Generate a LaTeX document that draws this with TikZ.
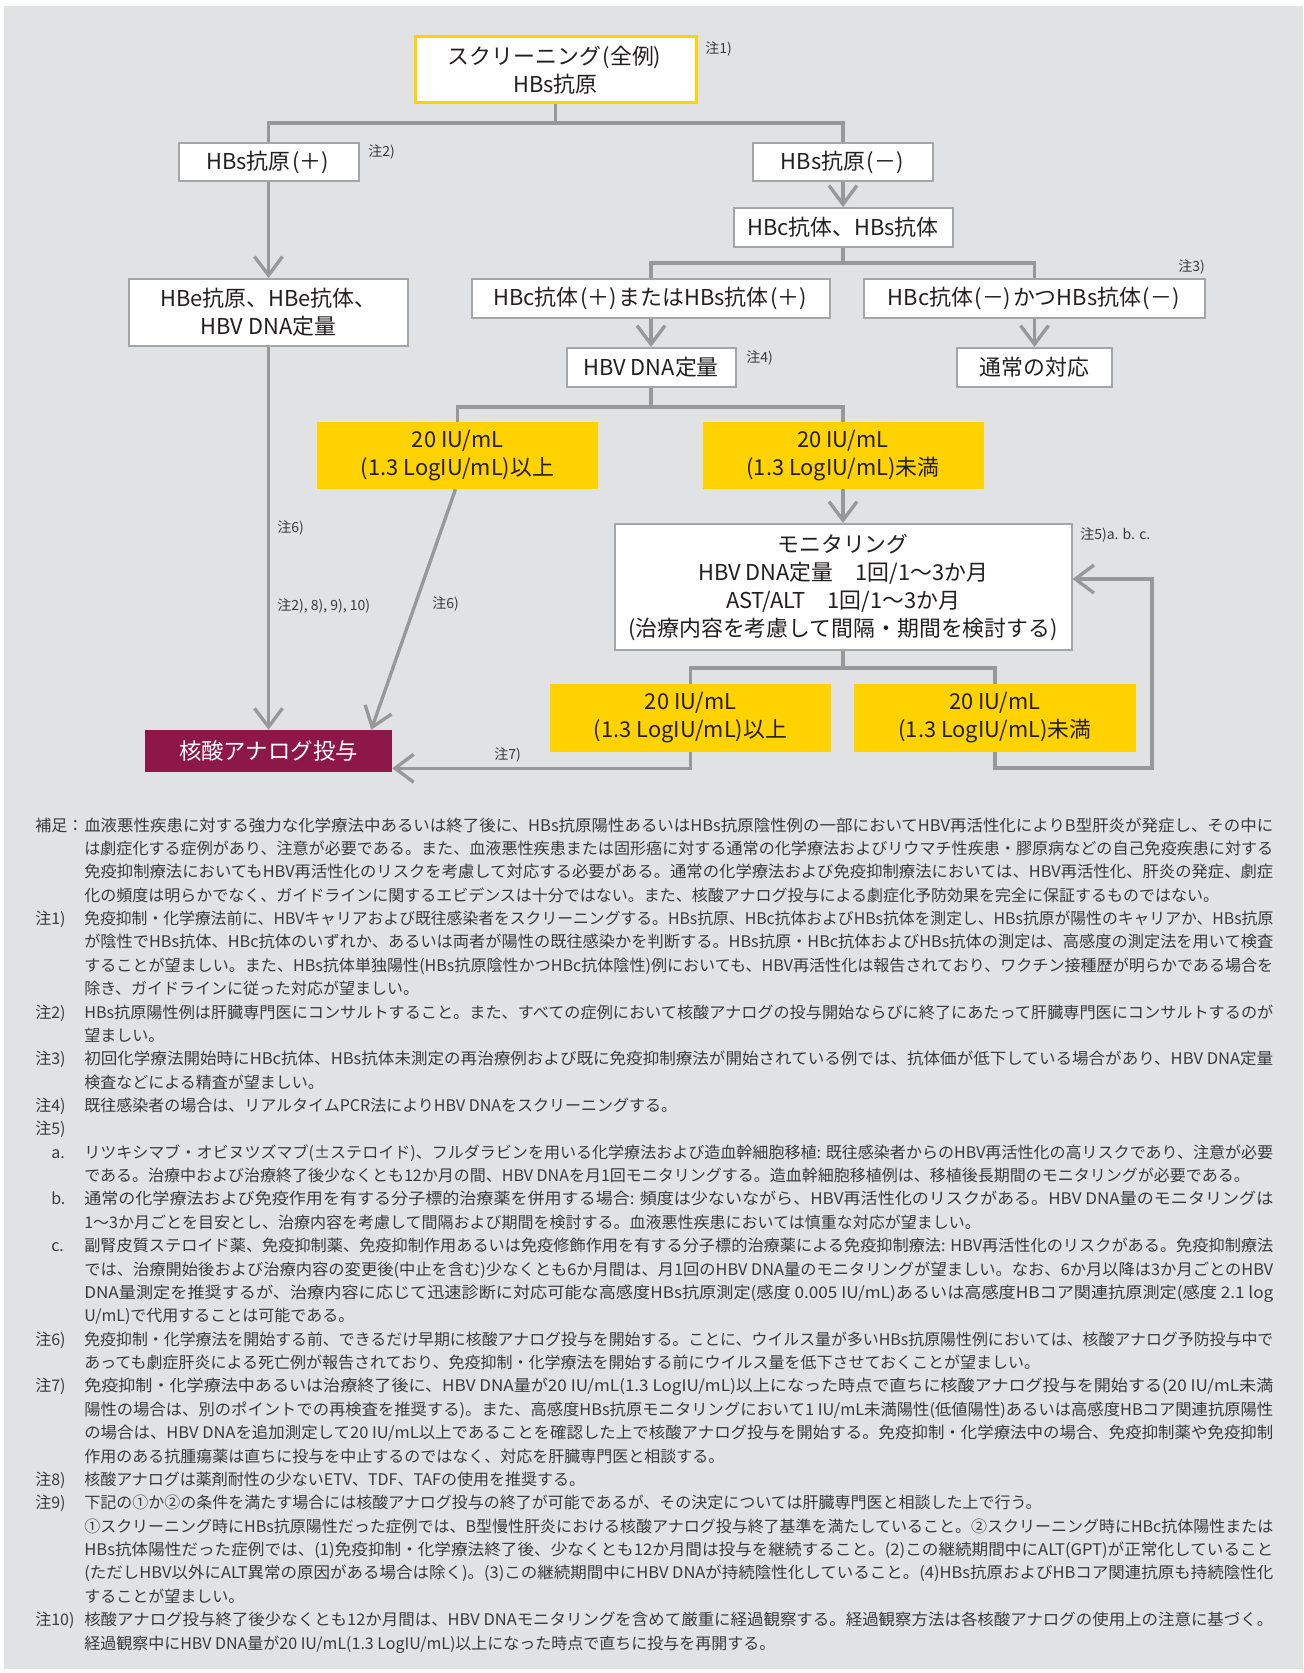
\documentclass[tikz,border=0pt]{standalone}
\usepackage{fontspec}
\setmainfont{Noto Sans CJK JP}
\usetikzlibrary{arrows.meta,calc}
\definecolor{bgc}{RGB}{225,226,228}
\definecolor{lnc}{RGB}{152,152,152}
\definecolor{bdc}{RGB}{165,165,165}
\definecolor{yel}{RGB}{255,210,0}
\definecolor{mag}{RGB}{141,24,72}
\definecolor{txt}{RGB}{35,31,32}
\definecolor{ntx}{RGB}{58,58,58}
\newcommand\FL[1]{\resizebox{891.75pt}{\height}{#1}}
\newcommand\LP{\kern0.08em(}
\newcommand\RP{)\kern0.08em}
\begin{document}
\begin{tikzpicture}[x=0.75pt,y=-0.75pt,
  sz/.style 2 args={minimum width=#1*0.75pt,minimum height=#2*0.75pt},
  wbox/.style={draw=bdc,line width=1.5pt,fill=white,inner sep=0pt,align=center,text=txt,font=\fontsize{16.4pt}{21pt}\selectfont},
  ybox/.style={fill=yel,inner sep=0pt,align=center,text=txt,font=\fontsize{16.4pt}{21pt}\selectfont},
  lab/.style={anchor=west,inner sep=0pt,text=ntx,font=\fontsize{10.5pt}{12pt}\selectfont},
  conn/.style={draw=lnc,line width=2.5pt},
  arr/.style={conn,-{Straight Barb[length=14pt,width=21pt]}},
  nt/.style={anchor=base west,inner sep=0pt,text=ntx,font=\fontsize{12pt}{14pt}\selectfont}
]
\useasboundingbox (0,0) rectangle (1303,1673);
\fill[white] (0,0) rectangle (1303,1673);
\fill[bgc] (4,6) rectangle (1303,1669);

% boxes
\node[wbox,draw=yel,line width=2.25pt,sz={281}{66}] (scr) at (555.5,70) {スクリーニング\LP 全例\RP\\HBs抗原};
\node[wbox,sz={180}{38}] (hbsp) at (268.5,162) {HBs抗原\LP ＋\RP};
\node[wbox,sz={180}{38}] (hbsn) at (843,162) {HBs抗原\LP －\RP};
\node[wbox,sz={219}{39}] (hbc) at (843,227.5) {HBc抗体、HBs抗体};
\node[wbox,sz={358}{39}] (hbcp) at (651,298.5) {HBc抗体\LP ＋\RP またはHBs抗体\LP ＋\RP};
\node[wbox,sz={341}{39}] (hbcn) at (1034.5,298.5) {HBc抗体\LP －\RP かつHBs抗体\LP －\RP};
\node[wbox,sz={279}{67}] (hbe) at (268.5,312.5) {HBe抗原、HBe抗体、\\HBV DNA定量};
\node[wbox,sz={169}{39}] (dna) at (651,367.5) {HBV DNA定量};
\node[wbox,sz={155}{39}] (usual) at (1034.5,367.5) {通常の対応};
\node[ybox,sz={281}{67}] (y1) at (457.5,455.5) {20 IU/mL\\(1.3 LogIU/mL)以上};
\node[ybox,sz={281}{67}] (y2) at (843,455.5) {20 IU/mL\\(1.3 LogIU/mL)未満};
\node[wbox,sz={457}{126}] (mon) at (843,587) {モニタリング\\HBV DNA定量　1回/1～3か月\\AST/ALT　1回/1～3か月\\(治療内容を考慮して間隔・期間を検討する)};
\node[ybox,sz={281}{68}] (y3) at (690.5,718) {20 IU/mL\\(1.3 LogIU/mL)以上};
\node[ybox,sz={282}{68}] (y4) at (995,718) {20 IU/mL\\(1.3 LogIU/mL)未満};
\node[fill=mag,text=white,inner sep=0pt,sz={247}{42},font=\fontsize{16.8pt}{20pt}\selectfont] (nuc) at (268.5,751) {核酸アナログ投与};

% connectors
\coordinate (j1) at (555.5,123);
\draw[conn] (scr.south) -- (j1);
\draw[conn] (hbsp.north) |- (j1) -| (hbsn.north);
\draw[arr] (hbsp.south) -- (hbe.north);
\draw[arr] (hbsn.south) -- (hbc.north);
\coordinate (j2) at (843,263);
\draw[conn] (hbc.south) -- (j2);
\draw[conn] (hbcp.north) |- (j2) -| (hbcn.north);
\draw[arr] (hbcp.south) -- (dna.north);
\draw[arr] (hbcn.south) -- (usual.north);
\coordinate (j3) at (651,407);
\draw[conn] (dna.south) -- (j3);
\draw[conn] (y1.north) |- (j3) -| (y2.north);
\draw[arr] (y2.south) -- (mon.north);
\draw[arr] ($(y1.south)+(-2,0)$) -- ($(nuc.north east)+(-21,0)$);
\draw[arr] (hbe.south) -- (nuc.north);
\coordinate (j4) at (843,668);
\draw[conn] (mon.south) -- (j4);
\draw[conn] (y3.north) |- (j4) -| (y4.north);
\draw[arr] (y3.south) |- ($(nuc.south east)+(0,-4)$);
\coordinate (fb) at (1152,768);
\draw[arr] (y4.south) |- (fb) |- ($(mon.east)+(0,-8)$);

% small labels
\node[lab] (l1) at (705,49) {注1)};
\node[lab] (l2) at (368,152) {注2)};
\node[lab] (l3) at (1178,267) {注3)};
\node[lab] (l4) at (746,358) {注4)};
\node[lab] (l5) at (1080,535) {注5)a. b. c.};
\node[lab] (l6a) at (277,528) {注6)};
\node[lab] (l2b) at (277,606) {注2), 8), 9), 10)};
\node[lab] (l6b) at (432,604) {注6)};
\node[lab] (l7) at (494,755) {注7)};

% note labels
\node[nt] (k0) at (35,831) {補足：};
\node[nt] (k1) at (35,924.5) {注1)};
\node[nt] (k2) at (35,1018) {注2)};
\node[nt] (k3) at (35,1064.7) {注3)};
\node[nt] (k4) at (35,1111.4) {注4)};
\node[nt] (k5) at (35,1134.8) {注5)};
\node[nt] (ka) at (51,1158.2) {a.};
\node[nt] (kb) at (51,1204.9) {b.};
\node[nt] (kc) at (51,1251.7) {c.};
\node[nt] (k6) at (35,1345.1) {注6)};
\node[nt] (k7) at (35,1391.9) {注7)};
\node[nt] (k8) at (35,1485.4) {注8)};
\node[nt] (k9) at (35,1508.7) {注9)};
\node[nt] (k10) at (35,1625.6) {注10)};

% note lines
\node[nt] (t0) at (84,831) {\FL{血液悪性疾患に対する強力な化学療法中あるいは終了後に、HBs抗原陽性あるいはHBs抗原陰性例の一部においてHBV再活性化によりB型肝炎が発症し、その中に}};
\node[nt] (t1) at (84,854.4) {\FL{は劇症化する症例があり、注意が必要である。また、血液悪性疾患または固形癌に対する通常の化学療法およびリウマチ性疾患・膠原病などの自己免疫疾患に対する}};
\node[nt] (t2) at (84,877.7) {\FL{免疫抑制療法においてもHBV再活性化のリスクを考慮して対応する必要がある。通常の化学療法および免疫抑制療法においては、HBV再活性化、肝炎の発症、劇症}};
\node[nt] (t3) at (84,901.1) {化の頻度は明らかでなく、ガイドラインに関するエビデンスは十分ではない。また、核酸アナログ投与による劇症化予防効果を完全に保証するものではない。};
\node[nt] (t4) at (84,924.5) {\FL{免疫抑制・化学療法前に、HBVキャリアおよび既往感染者をスクリーニングする。HBs抗原、HBc抗体およびHBs抗体を測定し、HBs抗原が陽性のキャリアか、HBs抗原}};
\node[nt] (t5) at (84,947.9) {\FL{が陰性でHBs抗体、HBc抗体のいずれか、あるいは両者が陽性の既往感染かを判断する。HBs抗原・HBc抗体およびHBs抗体の測定は、高感度の測定法を用いて検査}};
\node[nt] (t6) at (84,971.2) {\FL{することが望ましい。また、HBs抗体単独陽性(HBs抗原陰性かつHBc抗体陰性)例においても、HBV再活性化は報告されており、ワクチン接種歴が明らかである場合を}};
\node[nt] (t7) at (84,994.6) {除き、ガイドラインに従った対応が望ましい。};
\node[nt] (t8) at (84,1018) {\FL{HBs抗原陽性例は肝臓専門医にコンサルトすること。また、すべての症例において核酸アナログの投与開始ならびに終了にあたって肝臓専門医にコンサルトするのが}};
\node[nt] (t9) at (84,1041.3) {望ましい。};
\node[nt] (t10) at (84,1064.7) {\FL{初回化学療法開始時にHBc抗体、HBs抗体未測定の再治療例および既に免疫抑制療法が開始されている例では、抗体価が低下している場合があり、HBV DNA定量}};
\node[nt] (t11) at (84,1088.1) {検査などによる精査が望ましい。};
\node[nt] (t12) at (84,1111.4) {既往感染者の場合は、リアルタイムPCR法によりHBV DNAをスクリーニングする。};
\node[nt] (t14) at (84,1158.2) {\FL{リツキシマブ・オビヌツズマブ(±ステロイド)、フルダラビンを用いる化学療法および造血幹細胞移植: 既往感染者からのHBV再活性化の高リスクであり、注意が必要}};
\node[nt] (t15) at (84,1181.6) {である。治療中および治療終了後少なくとも12か月の間、HBV DNAを月1回モニタリングする。造血幹細胞移植例は、移植後長期間のモニタリングが必要である。};
\node[nt] (t16) at (84,1204.9) {\FL{通常の化学療法および免疫作用を有する分子標的治療薬を併用する場合: 頻度は少ないながら、HBV再活性化のリスクがある。HBV DNA量のモニタリングは}};
\node[nt] (t17) at (84,1228.3) {1～3か月ごとを目安とし、治療内容を考慮して間隔および期間を検討する。血液悪性疾患においては慎重な対応が望ましい。};
\node[nt] (t18) at (84,1251.7) {\FL{副腎皮質ステロイド薬、免疫抑制薬、免疫抑制作用あるいは免疫修飾作用を有する分子標的治療薬による免疫抑制療法: HBV再活性化のリスクがある。免疫抑制療法}};
\node[nt] (t19) at (84,1275) {\FL{では、治療開始後および治療内容の変更後(中止を含む)少なくとも6か月間は、月1回のHBV DNA量のモニタリングが望ましい。なお、6か月以降は3か月ごとのHBV}};
\node[nt] (t20) at (84,1298.4) {\FL{DNA量測定を推奨するが、治療内容に応じて迅速診断に対応可能な高感度HBs抗原測定(感度 0.005 IU/mL)あるいは高感度HBコア関連抗原測定(感度 2.1 log}};
\node[nt] (t21) at (84,1321.8) {U/mL)で代用することは可能である。};
\node[nt] (t22) at (84,1345.1) {\FL{免疫抑制・化学療法を開始する前、できるだけ早期に核酸アナログ投与を開始する。ことに、ウイルス量が多いHBs抗原陽性例においては、核酸アナログ予防投与中で}};
\node[nt] (t23) at (84,1368.5) {あっても劇症肝炎による死亡例が報告されており、免疫抑制・化学療法を開始する前にウイルス量を低下させておくことが望ましい。};
\node[nt] (t24) at (84,1391.9) {\FL{免疫抑制・化学療法中あるいは治療終了後に、HBV DNA量が20 IU/mL(1.3 LogIU/mL)以上になった時点で直ちに核酸アナログ投与を開始する(20 IU/mL未満}};
\node[nt] (t25) at (84,1415.3) {\FL{陽性の場合は、別のポイントでの再検査を推奨する)。また、高感度HBs抗原モニタリングにおいて1 IU/mL未満陽性(低値陽性)あるいは高感度HBコア関連抗原陽性}};
\node[nt] (t26) at (84,1438.6) {\FL{の場合は、HBV DNAを追加測定して20 IU/mL以上であることを確認した上で核酸アナログ投与を開始する。免疫抑制・化学療法中の場合、免疫抑制薬や免疫抑制}};
\node[nt] (t27) at (84,1462) {作用のある抗腫瘍薬は直ちに投与を中止するのではなく、対応を肝臓専門医と相談する。};
\node[nt] (t28) at (84,1485.4) {核酸アナログは薬剤耐性の少ないETV、TDF、TAFの使用を推奨する。};
\node[nt] (t29) at (84,1508.7) {下記の①か②の条件を満たす場合には核酸アナログ投与の終了が可能であるが、その決定については肝臓専門医と相談した上で行う。};
\node[nt] (t30) at (84,1532.1) {\FL{①スクリーニング時にHBs抗原陽性だった症例では、B型慢性肝炎における核酸アナログ投与終了基準を満たしていること。②スクリーニング時にHBc抗体陽性または}};
\node[nt] (t31) at (84,1555.5) {\FL{HBs抗体陽性だった症例では、(1)免疫抑制・化学療法終了後、少なくとも12か月間は投与を継続すること。(2)この継続期間中にALT(GPT)が正常化していること}};
\node[nt] (t32) at (84,1578.8) {\FL{(ただしHBV以外にALT異常の原因がある場合は除く)。(3)この継続期間中にHBV DNAが持続陰性化していること。(4)HBs抗原およびHBコア関連抗原も持続陰性化}};
\node[nt] (t33) at (84,1602.2) {することが望ましい。};
\node[nt] (t34) at (84,1625.6) {\FL{核酸アナログ投与終了後少なくとも12か月間は、HBV DNAモニタリングを含めて厳重に経過観察する。経過観察方法は各核酸アナログの使用上の注意に基づく。}};
\node[nt] (t35) at (84,1649) {経過観察中にHBV DNA量が20 IU/mL(1.3 LogIU/mL)以上になった時点で直ちに投与を再開する。};
\end{tikzpicture}
\end{document}
